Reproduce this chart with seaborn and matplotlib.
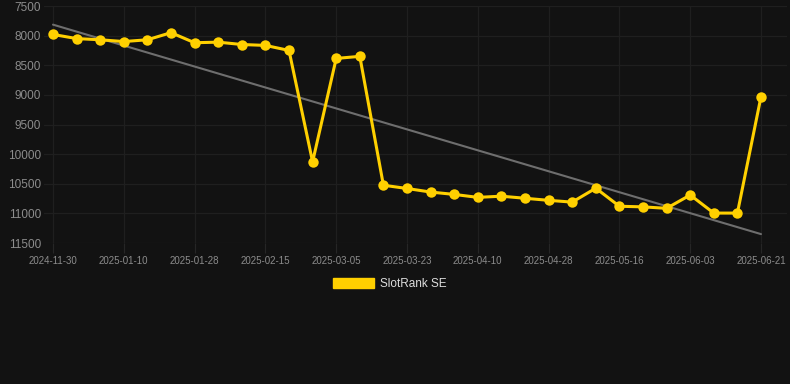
import numpy as np
import pandas as pd
import matplotlib
matplotlib.use("Agg")
import matplotlib.pyplot as plt
import matplotlib.dates as mdates
from matplotlib.patches import Patch
import seaborn as sns

# ---- data ----
start_date = "2024-12-23"
step_days = 6
ranks = [7980, 8050, 8070, 8100, 8070, 7950, 8120, 8110, 8150, 8165, 8250,
         10130, 8385, 8350, 10525, 10580, 10640, 10680, 10730, 10710, 10745,
         10780, 10810, 10575, 10880, 10890, 10915, 10690, 10995, 10995, 9030]
tick_labels = ["2024-11-30", "2025-01-10", "2025-01-28", "2025-02-15", "2025-03-05",
               "2025-03-23", "2025-04-10", "2025-04-28", "2025-05-16", "2025-06-03",
               "2025-06-21"]
y_ticks = [7500, 8000, 8500, 9000, 9500, 10000, 10500, 11000, 11500]
series_name = "SlotRank SE"

dates = pd.date_range(start_date, periods=len(ranks), freq=f"{step_days}D")
df = pd.DataFrame({"date": dates, "rank": ranks})
df["x"] = mdates.date2num(df["date"])

BG = "#121212"
GOLD = "#FFD000"
GRID = "#1f1f1f"
TICK = "#8c8c8c"

sns.set_theme(style="dark")
plt.rcParams["font.family"] = ["Liberation Sans", "DejaVu Sans"]

AX_L, AX_R, AX_T, AX_B = 44, 787, 6, 243
fig = plt.figure(figsize=(7.9, 3.84), dpi=100, facecolor=BG)
ax = fig.add_axes([AX_L / 790, 1 - AX_B / 384, (AX_R - AX_L) / 790, (AX_B - AX_T) / 384])
ax.set_facecolor(BG)

# trend line (linear regression)
sns.regplot(data=df, x="x", y="rank", scatter=False, ci=None, truncate=True,
            ax=ax, line_kws=dict(color="#6e6e6e", lw=1.5, zorder=2))

sns.lineplot(data=df, x="x", y="rank", ax=ax, color=GOLD, lw=2.2,
             marker="o", markersize=7.5, markeredgewidth=0, zorder=3,
             clip_on=False)

x0 = df["x"].iloc[0]
px_per_day = (761 - 53) / (df["x"].iloc[-1] - x0)
ax.set_xlim(x0 - (53 - AX_L) / px_per_day, x0 + (AX_R - 53) / px_per_day)
ax.set_ylim(11500, 7500)

tick_pos = df["x"].iloc[::3].values
ax.set_xticks(tick_pos)
ax.set_xticklabels(tick_labels)
ax.set_yticks(y_ticks)
ax.set_yticklabels([str(v) for v in y_ticks])

ax.tick_params(axis="x", colors=TICK, labelsize=7, length=7, width=0.8,
               color="#262626", pad=2, bottom=True)
ax.tick_params(axis="y", colors=TICK, labelsize=8.5, length=0, pad=2)
for lab in ax.get_xticklabels() + ax.get_yticklabels():
    lab.set_color(TICK)

ax.grid(True, color=GRID, lw=0.9)
for s in ax.spines.values():
    s.set_visible(False)
ax.set_xlabel("")
ax.set_ylabel("")
if ax.get_legend():
    ax.get_legend().remove()

handle = Patch(facecolor=GOLD, edgecolor=GOLD, label=series_name)
leg = fig.legend(handles=[handle], loc="center",
                 bbox_to_anchor=(390 / 790, 1 - 284 / 384),
                 frameon=False, fontsize=8.5, handlelength=3.4,
                 handleheight=1.0, handletextpad=0.55)
for t in leg.get_texts():
    t.set_color("#dddddd")

fig.savefig("out.png", dpi=100, facecolor=BG)
